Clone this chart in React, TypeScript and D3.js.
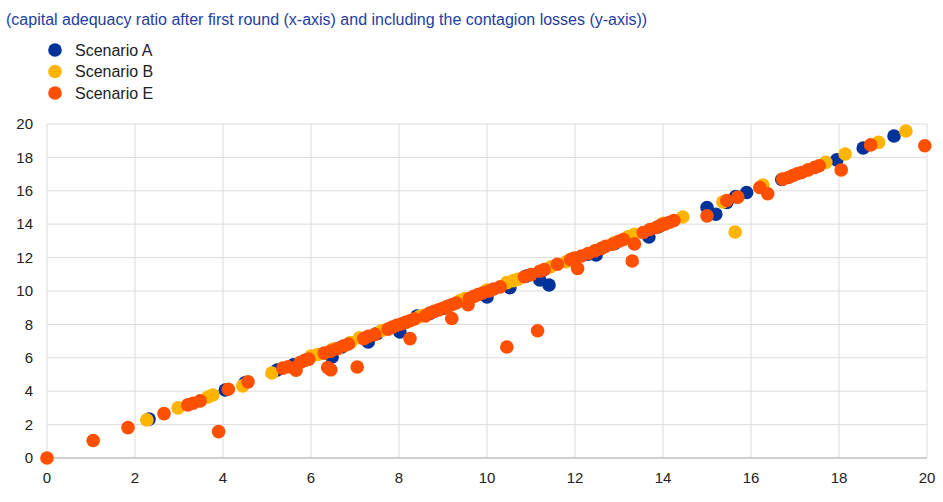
import React, { useEffect, useRef } from 'react';
import * as d3 from 'd3';

const TITLE = '(capital adequacy ratio after first round (x-axis) and including the contagion losses (y-axis))';

const SERIES_NAMES = ['Scenario A', 'Scenario B', 'Scenario E'];
const SERIES_COLORS = ['#003299', '#ffb400', '#ff4f00'];

const X_TICKS = [0, 2, 4, 6, 8, 10, 12, 14, 16, 18, 20];
const Y_TICKS = [0, 2, 4, 6, 8, 10, 12, 14, 16, 18, 20];

// Scenario A
const scenarioA: [number, number][] = [
  [2.32, 2.33], [4.05, 4.07], [4.5, 4.5], [5.23, 5.27], [5.6, 5.58], [5.9, 5.88],
  [6.48, 6.05], [6.7, 6.65], [7.3, 6.95], [7.5, 7.45], [8.02, 7.55], [8.41, 8.5],
  [8.7, 8.65], [9.0, 8.95], [9.6, 9.55], [10.0, 9.64], [10.52, 10.2], [10.9, 10.9],
  [11.2, 10.66], [11.41, 10.36], [12.3, 12.2], [12.48, 12.16], [12.9, 12.85],
  [13.68, 13.23], [13.9, 13.85], [15.0, 15.0], [15.2, 14.6], [15.45, 15.3],
  [15.65, 15.65], [15.9, 15.9], [16.7, 16.68], [17.95, 17.85], [18.55, 18.56],
  [19.25, 19.28],
];

// Scenario B
const scenarioB: [number, number][] = [
  [2.27, 2.28], [2.98, 3.0], [3.66, 3.65], [3.77, 3.77], [4.45, 4.32], [5.11, 5.09],
  [6.0, 6.1], [6.15, 6.2], [6.5, 6.52], [6.9, 6.92], [7.1, 7.2], [7.6, 7.62],
  [8.45, 8.45], [8.55, 8.55], [9.4, 9.45], [9.5, 9.55], [10.0, 10.05], [10.45, 10.5],
  [10.6, 10.62], [10.7, 10.7], [11.45, 11.45], [11.8, 11.75], [11.95, 11.95],
  [12.9, 12.9], [13.2, 13.25], [13.35, 13.4], [14.0, 14.05], [14.45, 14.43],
  [15.36, 15.33], [15.64, 13.53], [16.27, 16.35], [17.3, 17.27], [17.7, 17.7],
  [18.14, 18.2], [18.9, 18.9], [19.52, 19.58],
];

// Scenario E
const scenarioE: [number, number][] = [
  [0, 0], [1.05, 1.05], [1.84, 1.82], [2.66, 2.66], [3.2, 3.18], [3.32, 3.28],
  [3.48, 3.42], [3.9, 1.58], [4.12, 4.12], [4.57, 4.56], [5.36, 5.38], [5.48, 5.46],
  [5.66, 5.26], [5.75, 5.72], [5.85, 5.84], [5.95, 5.92], [6.38, 5.42], [6.45, 5.28],
  [6.3, 6.28], [6.45, 6.4], [6.6, 6.55], [6.75, 6.72], [6.85, 6.83], [7.05, 5.45],
  [7.2, 7.15], [7.3, 7.28], [7.45, 7.4], [7.75, 7.72], [7.85, 7.84], [7.95, 7.95],
  [8.05, 8.02], [8.15, 8.12], [8.25, 7.15], [8.25, 8.22], [8.35, 8.33], [8.6, 8.5],
  [8.7, 8.68], [8.8, 8.78], [8.9, 8.87], [9.0, 8.97], [9.1, 9.08], [9.2, 8.35],
  [9.2, 9.18], [9.3, 9.28], [9.57, 9.18], [9.6, 9.55], [9.7, 9.68], [9.8, 9.78],
  [9.9, 9.88], [10.05, 10.0], [10.15, 10.12], [10.3, 10.25], [10.45, 6.65],
  [10.85, 10.85], [11.0, 10.98], [11.15, 7.62], [11.2, 11.18], [11.3, 11.28],
  [11.6, 11.6], [11.9, 11.88], [12.0, 11.98], [12.06, 11.35], [12.15, 12.1],
  [12.3, 12.25], [12.45, 12.4], [12.6, 12.55], [12.7, 12.68], [12.85, 12.8],
  [13.0, 12.98], [13.1, 13.08], [13.3, 11.8], [13.35, 12.82], [13.55, 13.5],
  [13.7, 13.68], [13.85, 13.8], [13.95, 13.93], [14.05, 14.02], [14.15, 14.12],
  [14.25, 14.22], [15.0, 14.5], [15.45, 15.42], [15.7, 15.62], [16.2, 16.2],
  [16.38, 15.82], [16.72, 16.7], [16.85, 16.8], [16.95, 16.92], [17.05, 17.02],
  [17.15, 17.1], [17.3, 17.25], [17.45, 17.4], [17.55, 17.5], [18.05, 17.25],
  [18.72, 18.75], [19.95, 18.7],
];

const SERIES = [scenarioA, scenarioB, scenarioE];

export default function App() {
  const svgRef = useRef<SVGSVGElement>(null);

  useEffect(() => {
    document.body.style.margin = '0';
    if (!svgRef.current) return;
    const svg = d3.select(svgRef.current);
    svg.selectAll('*').remove();

    const font = 'Liberation Sans, Arial, sans-serif';
    const x = d3.scaleLinear().domain([0, 20]).range([47, 927]);
    const y = d3.scaleLinear().domain([0, 20]).range([458, 124]);

    // titulo
    svg.append('text')
      .attr('x', 6)
      .attr('y', 25)
      .attr('font-family', font)
      .attr('font-size', 16)
      .attr('fill', '#1c3ea0')
      .text(TITLE);

    // leyenda
    SERIES_NAMES.forEach((name, i) => {
      const ly = 50 + i * 21.5;
      svg.append('circle')
        .attr('cx', 55).attr('cy', ly).attr('r', 6.8)
        .attr('fill', SERIES_COLORS[i]);
      svg.append('text')
        .attr('x', 75).attr('y', ly)
        .attr('dy', '0.35em')
        .attr('font-family', font)
        .attr('font-size', 16)
        .attr('fill', '#222')
        .text(name);
    });

    // rejilla
    const grid = svg.append('g');
    X_TICKS.forEach(t => {
      grid.append('line')
        .attr('x1', x(t)).attr('x2', x(t))
        .attr('y1', y(20)).attr('y2', y(0))
        .attr('stroke', '#dcdcdc').attr('stroke-width', 1);
    });
    Y_TICKS.forEach(t => {
      grid.append('line')
        .attr('x1', x(0)).attr('x2', x(20))
        .attr('y1', y(t)).attr('y2', y(t))
        .attr('stroke', t === 0 ? '#cfcfcf' : '#dcdcdc')
        .attr('stroke-width', t === 0 ? 1.8 : 1);
    });

    // etiquetas de ejes
    Y_TICKS.forEach(t => {
      svg.append('text')
        .attr('x', 33).attr('y', y(t))
        .attr('dy', '0.35em')
        .attr('text-anchor', 'end')
        .attr('font-family', font)
        .attr('font-size', 15)
        .attr('fill', '#222')
        .text(t);
    });
    X_TICKS.forEach(t => {
      svg.append('text')
        .attr('x', x(t)).attr('y', 483)
        .attr('text-anchor', 'middle')
        .attr('font-family', font)
        .attr('font-size', 15)
        .attr('fill', '#222')
        .text(t);
    });

    // puntos
    SERIES.forEach((data, i) => {
      svg.append('g')
        .selectAll('circle')
        .data(data)
        .join('circle')
        .attr('cx', d => x(d[0]))
        .attr('cy', d => y(d[1]))
        .attr('r', 6.8)
        .attr('fill', SERIES_COLORS[i]);
    });
  }, []);

  return <svg ref={svgRef} width={943} height={502} style={{ display: 'block' }} />;
}
